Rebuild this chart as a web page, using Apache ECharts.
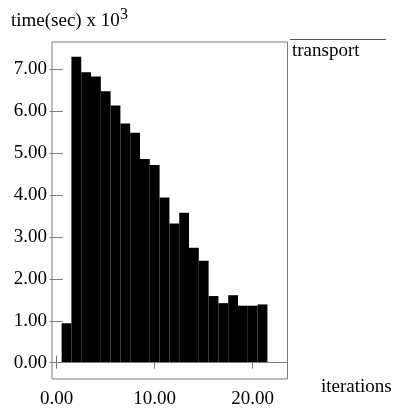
<!DOCTYPE html>
<html>
<head>
<meta charset="utf-8">
<script src="https://cdn.jsdelivr.net/npm/echarts@6/dist/echarts.min.js"></script>
<style>
html,body{margin:0;padding:0;background:#fff;}
#chart{width:393px;height:409px;}
</style>
</head>
<body>
<div id="chart"></div>
<script>
// iteration numbers (bar centres)
var iterations = [1,2,3,4,5,6,7,8,9,10,11,12,13,14,15,16,17,18,19,20,21];
// time (sec) x 10^3 for "transport"
var transportTimes = [0.94,7.30,6.93,6.83,6.48,6.14,5.71,5.49,4.86,4.72,3.94,3.32,3.58,2.74,2.43,1.59,1.42,1.61,1.36,1.36,1.39];
var xTicks = [0,10,20];
var yTicks = [0,1,2,3,4,5,6,7];
var seriesName = 'transport';
var yTitle = 'time(sec) x 10';
var yTitleSup = '3';
var xTitle = 'iterations';

var FONT = 'Liberation Serif';
var FRAME = '#7a7a7a';

var barData = iterations.map(function(x,i){ return [x, transportTimes[i]]; });
function fmt(v){ return Number(v).toFixed(2); }

var chart = echarts.init(document.getElementById('chart'), null, {renderer:'canvas'});
var common = {
  type:'value', scale:false,
  axisLine:{show:false},
  splitLine:{show:false}
};
chart.setOption({
  animation:false,
  backgroundColor:'#fff',
  grid:{left:52, top:42, width:235.5, height:344, show:true, borderColor:FRAME, borderWidth:1, backgroundColor:'transparent'},
  xAxis:[
    Object.assign({}, common, {
      position:'bottom', min:-0.48, max:23.55,
      axisTick:{show:true, inside:true, length:7, lineStyle:{color:FRAME}, customValues:xTicks},
      axisLabel:{show:true, margin:11, fontSize:19, fontFamily:FONT, color:'#000', customValues:xTicks, formatter:fmt}
    }),
    Object.assign({}, common, {
      position:'top', min:-0.48, max:23.55,
      axisTick:{show:true, inside:true, length:6, lineStyle:{color:FRAME}, customValues:xTicks},
      axisLabel:{show:false}
    })
  ],
  yAxis:[
    Object.assign({}, common, {
      position:'left', min:-0.39, max:7.654,
      axisTick:{show:true, inside:true, length:6, lineStyle:{color:FRAME}, customValues:yTicks},
      axisLabel:{show:true, margin:5, fontSize:19, fontFamily:FONT, color:'#000', customValues:yTicks, formatter:fmt}
    }),
    Object.assign({}, common, {
      position:'right', min:-0.39, max:7.654,
      axisTick:{show:true, inside:true, length:7, lineStyle:{color:FRAME}, customValues:yTicks},
      axisLabel:{show:false}
    })
  ],
  series:[{
    name:seriesName,
    type:'bar',
    xAxisIndex:0, yAxisIndex:0,
    data:barData,
    barWidth:'100%',
    itemStyle:{color:'#000'},
    markLine:{
      silent:true, symbol:'none', label:{show:false},
      lineStyle:{color:FRAME, width:1, type:'solid'},
      data:[{yAxis:0}]
    },
    z:3
  }],
  graphic:[
    {type:'text', left:11, top:12, style:{text:yTitle, font:'19px "' + FONT + '"', fill:'#000'}},
    {type:'text', left:120, top:7, style:{text:yTitleSup, font:'16px "' + FONT + '"', fill:'#000'}},
    {type:'line', shape:{x1:290, y1:39.5, x2:386, y2:39.5}, style:{stroke:'#555', lineWidth:1}},
    {type:'text', left:292, top:42, style:{text:seriesName, font:'19px "' + FONT + '"', fill:'#000'}},
    {type:'text', left:321, top:378, style:{text:xTitle, font:'19px "' + FONT + '"', fill:'#000'}}
  ]
});
</script>
</body>
</html>
